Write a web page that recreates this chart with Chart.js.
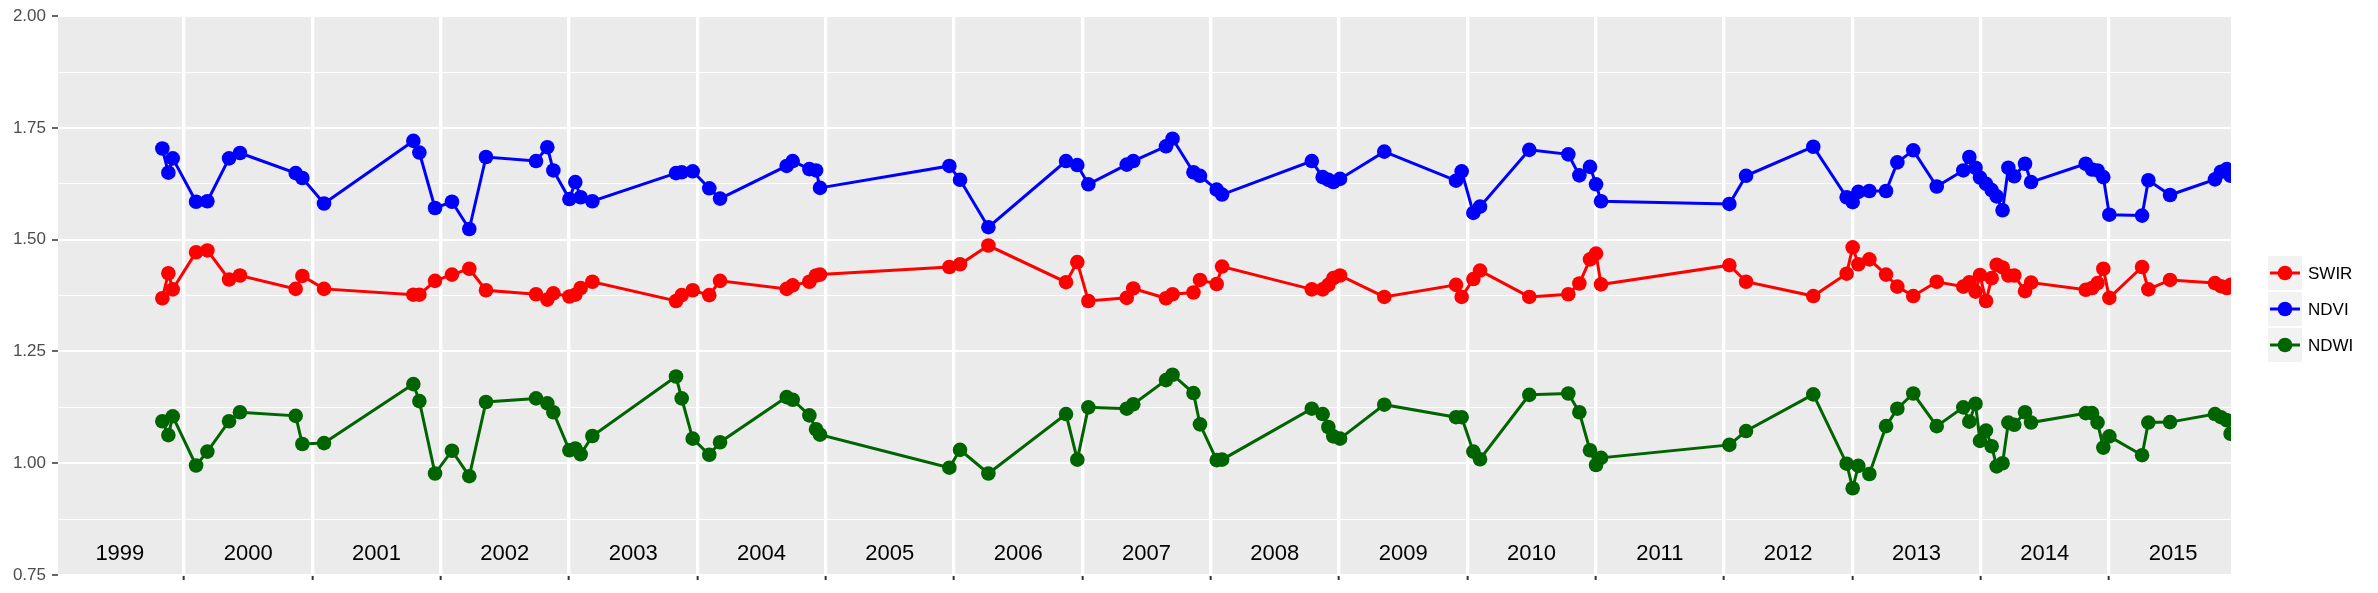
<!DOCTYPE html>
<html><head><meta charset="utf-8">
<script src="https://cdn.jsdelivr.net/npm/chart.js@4.4.0/dist/chart.umd.min.js"></script>
<style>html,body{margin:0;padding:0;background:#fff;} canvas{display:block;}</style>
</head><body>
<canvas id="c" width="2378" height="593"></canvas>
<script>
// ---- data (decimal years) ----
const dates = [
 1999.831, 1999.878, 1999.912, 2000.094, 2000.182, 2000.351, 2000.436, 2000.870, 2000.922, 2001.091,
 2001.787, 2001.834, 2001.956, 2002.088, 2002.223, 2002.353, 2002.743, 2002.831, 2002.878, 2003.003, 2003.049, 2003.091, 2003.182,
 2003.834, 2003.878, 2003.964, 2004.093, 2004.177, 2004.696, 2004.743, 2004.873, 2004.925, 2004.956,
 2005.964, 2006.047, 2006.268, 2006.873, 2006.961, 2007.047, 2007.346, 2007.397, 2007.652, 2007.703, 2007.866, 2007.917, 2008.047, 2008.089,
 2008.788, 2008.873, 2008.917, 2008.956, 2009.008, 2009.353, 2009.912, 2009.956, 2010.047, 2010.099, 2010.483, 2010.787, 2010.873, 2010.956, 2011.003, 2011.042,
 2012.042, 2012.172, 2012.696, 2012.956, 2013.003, 2013.047, 2013.133, 2013.263, 2013.351, 2013.475, 2013.658,
 2013.865, 2013.912, 2013.960, 2013.995, 2014.042, 2014.086, 2014.125, 2014.171, 2014.216, 2014.262, 2014.346, 2014.393,
 2014.819, 2014.868, 2014.911, 2014.956, 2015.003, 2015.258, 2015.307, 2015.476, 2015.826, 2015.873, 2015.918, 2015.948
];
const swir = [
 1.369, 1.425, 1.389, 1.472, 1.476, 1.411, 1.420, 1.390, 1.419, 1.390,
 1.377, 1.377, 1.408, 1.422, 1.435, 1.387, 1.378, 1.366, 1.380, 1.373, 1.377, 1.392, 1.406,
 1.363, 1.376, 1.387, 1.376, 1.408, 1.390, 1.398, 1.406, 1.420, 1.422,
 1.439, 1.445, 1.487, 1.405, 1.450, 1.363, 1.370, 1.391, 1.369, 1.378, 1.382, 1.410, 1.401, 1.440,
 1.389, 1.389, 1.399, 1.414, 1.420, 1.372, 1.399, 1.372, 1.412, 1.431, 1.372, 1.378, 1.402, 1.456, 1.469, 1.400,
 1.443, 1.406, 1.374, 1.424, 1.483, 1.445, 1.456, 1.422, 1.395, 1.374, 1.406,
 1.395, 1.405, 1.384, 1.421, 1.363, 1.414, 1.444, 1.438, 1.420, 1.420, 1.385, 1.404,
 1.388, 1.392, 1.403, 1.435, 1.370, 1.439, 1.389, 1.410, 1.403, 1.396, 1.392, 1.399
];
const ndvi = [
 1.704, 1.650, 1.682, 1.585, 1.586, 1.682, 1.694, 1.649, 1.638, 1.581,
 1.721, 1.695, 1.571, 1.585, 1.524, 1.685, 1.676, 1.707, 1.655, 1.591, 1.629, 1.595, 1.586,
 1.649, 1.651, 1.653, 1.615, 1.592, 1.665, 1.676, 1.658, 1.655, 1.616,
 1.665, 1.634, 1.528, 1.676, 1.667, 1.624, 1.668, 1.676, 1.709, 1.726, 1.651, 1.643, 1.612, 1.601,
 1.676, 1.640, 1.634, 1.629, 1.636, 1.697, 1.632, 1.653, 1.560, 1.574, 1.701, 1.691, 1.644, 1.663, 1.624, 1.586,
 1.580, 1.643, 1.708, 1.595, 1.584, 1.607, 1.609, 1.609, 1.673, 1.700, 1.619,
 1.655, 1.685, 1.661, 1.639, 1.625, 1.611, 1.597, 1.566, 1.661, 1.642, 1.670, 1.629,
 1.670, 1.657, 1.655, 1.640, 1.556, 1.554, 1.633, 1.600, 1.635, 1.652, 1.658, 1.643
];
const ndwi = [
 1.094, 1.063, 1.105, 0.995, 1.026, 1.094, 1.114, 1.106, 1.043, 1.045,
 1.177, 1.139, 0.977, 1.028, 0.971, 1.137, 1.145, 1.134, 1.114, 1.029, 1.033, 1.020, 1.061,
 1.194, 1.145, 1.055, 1.019, 1.047, 1.148, 1.142, 1.107, 1.076, 1.064,
 0.990, 1.030, 0.977, 1.110, 1.008, 1.125, 1.122, 1.132, 1.186, 1.198, 1.157, 1.087, 1.007, 1.008,
 1.122, 1.110, 1.081, 1.060, 1.055, 1.131, 1.103, 1.103, 1.026, 1.009, 1.153, 1.156, 1.114, 1.029, 0.996, 1.012,
 1.041, 1.072, 1.154, 0.999, 0.944, 0.994, 0.976, 1.083, 1.122, 1.156, 1.083,
 1.125, 1.093, 1.133, 1.050, 1.073, 1.038, 0.993, 1.000, 1.091, 1.086, 1.114, 1.091,
 1.112, 1.112, 1.091, 1.035, 1.060, 1.018, 1.091, 1.092, 1.110, 1.103, 1.096, 1.066
];
const seriesNames = ['SWIR', 'NDVI', 'NDWI'];
const seriesColors = ['#FF0000', '#0000FF', '#006400'];
const yearBreaks = [2000,2001,2002,2003,2004,2005,2006,2007,2008,2009,2010,2011,2012,2013,2014,2015];
const yearLabels = ['1999','2000','2001','2002','2003','2004','2005','2006','2007','2008','2009','2010','2011','2012','2013','2014','2015'];
const yMajorTicks = [0.75, 1.00, 1.25, 1.50, 1.75, 2.00];
const yTickLabels = ['0.75', '1.00', '1.25', '1.50', '1.75', '2.00'];
const yMinorTicks = [0.875, 1.125, 1.375, 1.625, 1.875];
const xRange = [1999.018, 2015.951];
const yRange = [0.75, 2.00];

// ---- build ----
const FONT = "'Liberation Sans', Arial, sans-serif";
Chart.defaults.font.family = FONT;
const seriesValues = [swir, ndvi, ndwi];
const datasets = seriesNames.map((name, i) => ({
  label: name,
  data: dates.map((d, j) => ({x: d, y: seriesValues[i][j]})),
  borderColor: seriesColors[i],
  backgroundColor: seriesColors[i],
  pointBackgroundColor: seriesColors[i],
  pointBorderColor: seriesColors[i],
  pointRadius: 7.3,
  pointBorderWidth: 0,
  pointHoverRadius: 7.3,
  borderWidth: 3,
  showLine: true,
  tension: 0,
  clip: 0
}));
const isMajor = v => yMajorTicks.some(m => Math.abs(m - v) < 1e-6);

const panelBg = {
  id: 'panelBg',
  beforeDraw(chart) {
    const a = chart.chartArea, c = chart.ctx;
    c.save(); c.fillStyle = '#EBEBEB';
    c.fillRect(a.left, a.top, a.right - a.left, a.bottom - a.top);
    c.restore();
  }
};
const yearText = {
  id: 'yearText',
  afterDatasetsDraw(chart) {
    const c = chart.ctx, xs = chart.scales.x, a = chart.chartArea;
    c.save();
    c.fillStyle = '#000';
    c.font = '22px ' + FONT;
    c.textAlign = 'center'; c.textBaseline = 'middle';
    yearLabels.forEach(l => {
      c.fillText(l, xs.getPixelForValue(Number(l) + 0.5), a.bottom - 21);
    });
    c.restore();
  }
};
const legendBox = {
  id: 'legendBox',
  afterDraw(chart) {
    const c = chart.ctx, a = chart.chartArea;
    const x0 = a.right + 37, size = 34, gap = 2, top0 = 256;
    c.save();
    chart.data.datasets.forEach((ds, i) => {
      const y = top0 + i * (size + gap);
      c.fillStyle = '#F2F2F2';
      c.fillRect(x0, y, size, size);
      c.strokeStyle = ds.borderColor; c.lineWidth = 3;
      c.beginPath(); c.moveTo(x0 + 2, y + size / 2); c.lineTo(x0 + size - 2, y + size / 2); c.stroke();
      c.fillStyle = ds.borderColor;
      c.beginPath(); c.arc(x0 + size / 2, y + size / 2, 7.3, 0, Math.PI * 2); c.fill();
      c.fillStyle = '#000'; c.font = '17px ' + FONT;
      c.textAlign = 'left'; c.textBaseline = 'middle';
      c.fillText(ds.label, x0 + size + 6, y + size / 2 + 1);
    });
    c.restore();
  }
};

new Chart(document.getElementById('c'), {
  type: 'scatter',
  data: { datasets },
  plugins: [panelBg, yearText, legendBox],
  options: {
    responsive: false,
    animation: false,
    devicePixelRatio: 1,
    layout: { padding: { left: 0, right: 147, top: 10.6, bottom: 0 } },
    plugins: { legend: { display: false }, tooltip: { enabled: false } },
    scales: {
      x: {
        type: 'linear', min: xRange[0], max: xRange[1],
        afterBuildTicks: s => { s.ticks = yearBreaks.map(v => ({ value: v })); },
        afterFit: s => { s.height = 18; },
        border: { display: false },
        grid: { color: '#FFFFFF', lineWidth: 3.3, drawTicks: true, tickLength: 5, tickColor: '#333333', tickWidth: 2 },
        ticks: { display: false, autoSkip: false }
      },
      y: {
        type: 'linear', min: yRange[0], max: yRange[1],
        afterBuildTicks: s => { s.ticks = yMajorTicks.concat(yMinorTicks).sort((a, b) => a - b).map(v => ({ value: v })); },
        afterFit: s => { s.width = 58; },
        border: { display: false },
        grid: {
          color: '#FFFFFF',
          lineWidth: ctx => (ctx.tick && isMajor(ctx.tick.value)) ? 2 : 1.1,
          drawTicks: true, tickLength: 6,
          tickColor: ctx => (ctx.tick && isMajor(ctx.tick.value)) ? '#333333' : 'rgba(0,0,0,0)',
          tickWidth: 1.5
        },
        ticks: {
          autoSkip: false, padding: 6, color: '#4D4D4D', font: { size: 17 },
          callback: v => { const k = yMajorTicks.findIndex(m => Math.abs(m - v) < 1e-6); return k >= 0 ? yTickLabels[k] : ''; }
        }
      }
    }
  }
});
</script>
</body></html>
